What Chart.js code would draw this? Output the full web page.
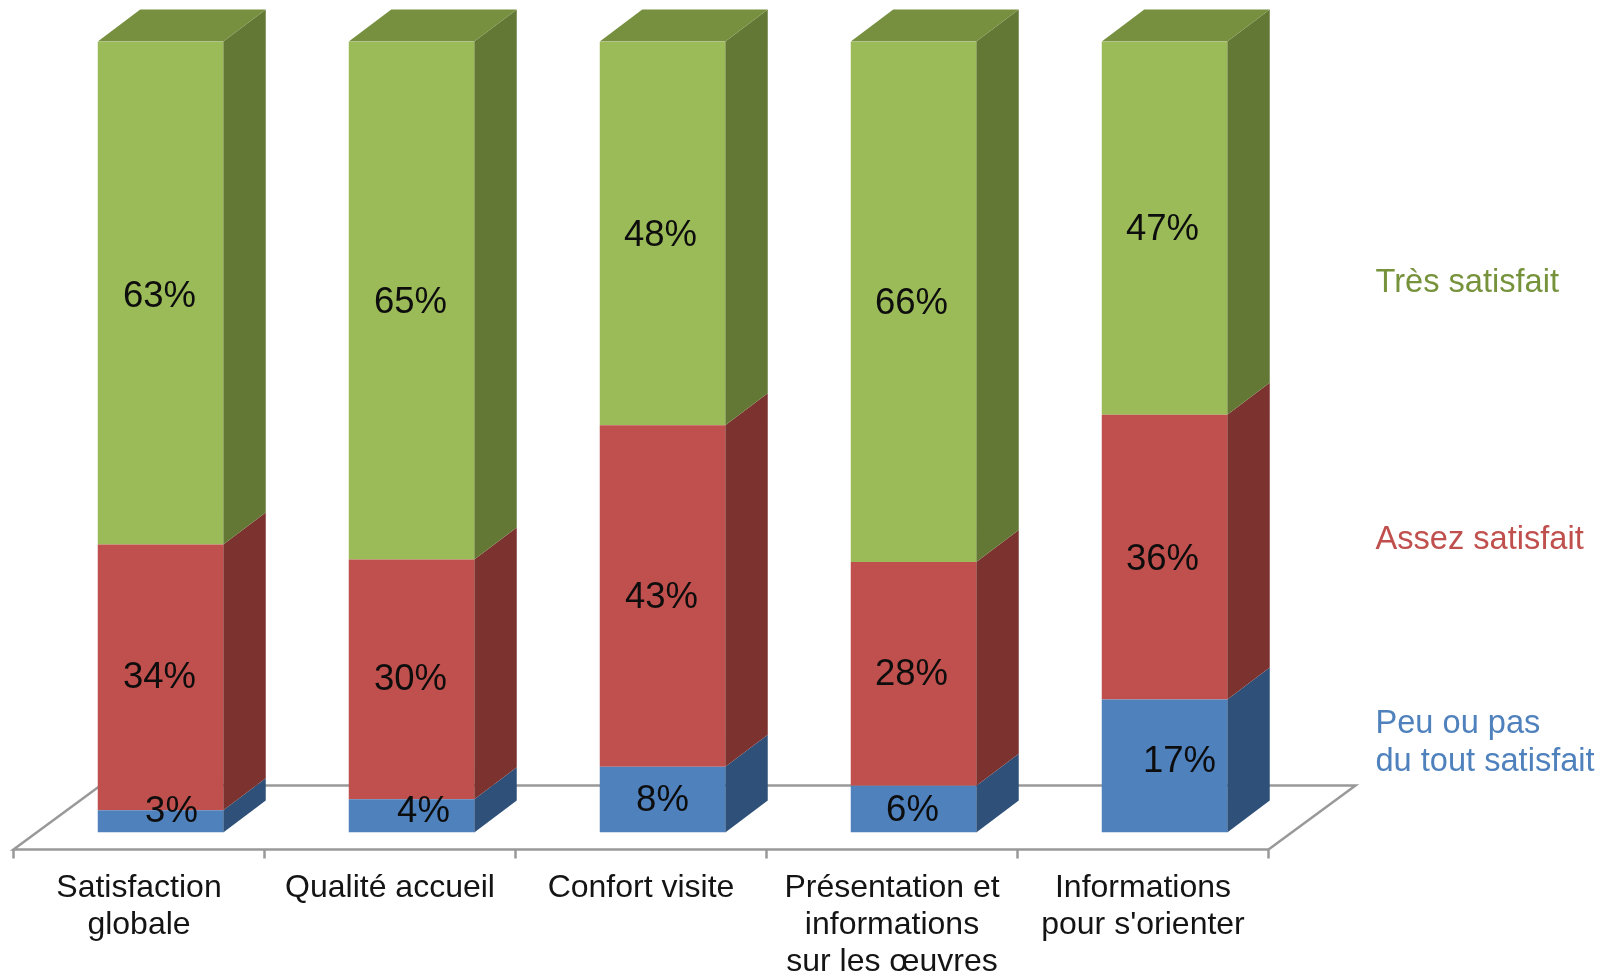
<!DOCTYPE html>
<html lang="fr">
<head>
<meta charset="utf-8">
<title>Satisfaction des visiteurs</title>
<script src="https://cdn.jsdelivr.net/npm/chart.js@4"></script>
<style>
    html, body { margin: 0; padding: 0; background: #fff; }
    canvas { display: block; }
</style>
</head>
<body>
<canvas id="satisfactionChart" width="1608" height="977"></canvas>
<script>
// Catégories de l'axe horizontal
const categories = [
    ['Satisfaction', 'globale'],
    'Qualité accueil',
    'Confort visite',
    ['Présentation et', 'informations', 'sur les œuvres'],
    ['Informations', "pour s'orienter"]
];

// Hauteurs (part de la barre, en %)
const peuOuPas = [2.8, 4.2, 8.3, 5.9, 16.8];
const assezSatisfait = [33.6, 30.3, 43.2, 28.3, 36.0];
const tresSatisfait = [63.6, 65.5, 48.5, 65.8, 47.2];

// Pourcentages imprimés sur les barres
const peuOuPasLabels = ['3%', '4%', '8%', '6%', '17%'];
const assezSatisfaitLabels = ['34%', '30%', '43%', '28%', '36%'];
const tresSatisfaitLabels = ['63%', '65%', '48%', '66%', '47%'];

// Décalage de la perspective 3D et des étiquettes placées à la main
const depthX = 42.5;
const depthY = 32;
const axisShift = 21.5;
const floorDepthX = 87;
const floorDepthY = 64;
const nudges = [
    [[11, -9], [12, -3.5], [0, 1.5], [-1, 1.5], [15, -4.5]],
    [[-1, 0.5], [-1, 0.5], [-1, 1.5], [-2, 1.5], [-2, 2.5]],
    [[-1, 3.5], [-1, 2.5], [-2, 2.5], [-2, 2.5], [-2, 1.5]]
];

// Légende écrite à droite du graphique
const legendEntries = [
    { lines: ['Très satisfait'], color: '#76933c', baseline: 292 },
    { lines: ['Assez satisfait'], color: '#c0504d', baseline: 549 },
    { lines: ['Peu ou pas', 'du tout satisfait'], color: '#4f81bd', baseline: 733 }
];

function polygon(ctx, points, fill) {
    ctx.fillStyle = fill;
    ctx.beginPath();
    points.forEach((p, i) => i ? ctx.lineTo(p[0], p[1]) : ctx.moveTo(p[0], p[1]));
    ctx.closePath();
    ctx.fill();
}

// Sol de la perspective et faces latérales des barres
const bars3d = {
    id: 'bars3d',
    beforeDatasetsDraw(chart) {
        const ctx = chart.ctx;
        const xScale = chart.scales.x;
        const floorY = chart.chartArea.bottom + 17;
        const step = xScale.width / categories.length;
        const left = xScale.left - axisShift;
        const right = xScale.right - axisShift;

        ctx.save();
        ctx.strokeStyle = '#999999';
        ctx.lineWidth = 2.5;
        ctx.beginPath();
        ctx.moveTo(left + floorDepthX, floorY - floorDepthY);
        ctx.lineTo(left, floorY);
        ctx.lineTo(right, floorY);
        ctx.lineTo(right + floorDepthX, floorY - floorDepthY);
        ctx.lineTo(left + floorDepthX, floorY - floorDepthY);
        for (let i = 0; i <= categories.length; i++) {
            ctx.moveTo(left + i * step, floorY);
            ctx.lineTo(left + i * step, floorY + 9);
        }
        ctx.stroke();

        chart.data.datasets.forEach((dataset, d) => {
            chart.getDatasetMeta(d).data.forEach(bar => {
                const r = bar.x + bar.width / 2;
                const l = bar.x - bar.width / 2;
                polygon(ctx, [
                    [r, bar.y], [r + depthX, bar.y - depthY],
                    [r + depthX, bar.base - depthY], [r, bar.base]
                ], dataset.sideColor);
                if (d === chart.data.datasets.length - 1) {
                    polygon(ctx, [
                        [l, bar.y], [l + depthX, bar.y - depthY],
                        [r + depthX, bar.y - depthY], [r, bar.y]
                    ], dataset.topColor);
                }
            });
        });
        ctx.restore();
    },
    afterDatasetsDraw(chart) {
        const ctx = chart.ctx;
        ctx.save();
        ctx.font = '36.5px "Liberation Sans", Arial, sans-serif';
        ctx.fillStyle = '#0d0d0d';
        ctx.textAlign = 'center';
        ctx.textBaseline = 'middle';
        chart.data.datasets.forEach((dataset, d) => {
            chart.getDatasetMeta(d).data.forEach((bar, i) => {
                const nudge = nudges[d][i];
                ctx.fillText(dataset.printed[i], bar.x + nudge[0], (bar.y + bar.base) / 2 + nudge[1]);
            });
        });

        // Légende
        ctx.font = '32.6px "Liberation Sans", Arial, sans-serif';
        ctx.textAlign = 'left';
        ctx.textBaseline = 'alphabetic';
        legendEntries.forEach(entry => {
            ctx.fillStyle = entry.color;
            entry.lines.forEach((line, i) => ctx.fillText(line, 1375.5, entry.baseline + i * 37.5));
        });
        ctx.restore();
    }
};

const ctx = document.getElementById('satisfactionChart').getContext('2d');
const chart = new Chart(ctx, {
    type: 'bar',
    data: {
        labels: categories,
        datasets: [
            {
                label: 'Peu ou pas du tout satisfait',
                data: peuOuPas,
                printed: peuOuPasLabels,
                backgroundColor: '#4f81bd',
                sideColor: '#2f5179'
            },
            {
                label: 'Assez satisfait',
                data: assezSatisfait,
                printed: assezSatisfaitLabels,
                backgroundColor: '#c0504d',
                sideColor: '#7c322f'
            },
            {
                label: 'Très satisfait',
                data: tresSatisfait,
                printed: tresSatisfaitLabels,
                backgroundColor: '#9bbb59',
                sideColor: '#647836',
                topColor: '#76903f'
            }
        ]
    },
    options: {
        responsive: false,
        animation: false,
        categoryPercentage: 1,
        barPercentage: 0.5,
        layout: {
            padding: { left: 35, right: 318, top: 41.5, bottom: 0 }
        },
        plugins: {
            legend: { display: false },
            tooltip: { enabled: false }
        },
        scales: {
            x: {
                stacked: true,
                grid: { display: false },
                border: { display: false },
                afterFit(scale) {
                    scale.height = 144.5;
                },
                ticks: {
                    autoSkip: false,
                    maxRotation: 0,
                    minRotation: 0,
                    labelOffset: -axisShift,
                    padding: 28.5,
                    color: '#141414',
                    font: {
                        family: '"Liberation Sans", Arial, sans-serif',
                        size: 32,
                        lineHeight: 1.17
                    }
                }
            },
            y: {
                display: false,
                stacked: true,
                min: 0,
                max: 100
            }
        }
    },
    plugins: [bars3d]
});
</script>
</body>
</html>
